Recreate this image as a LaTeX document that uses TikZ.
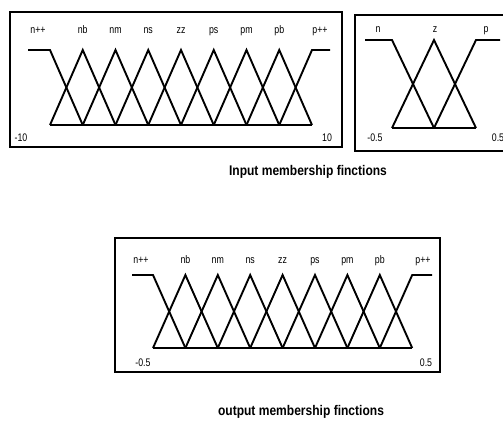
\documentclass[tikz,border=0pt]{standalone}
\usepackage{fontspec}
\setmainfont{Liberation Sans}
\newfontfamily\labfont[FakeStretch=0.8]{Liberation Sans}
\newfontfamily\ttlfont[FakeStretch=0.86]{Liberation Sans}
\begin{document}
\begin{tikzpicture}[x=1pt,y=-1pt,
  frame/.style={draw,line width=1.6pt},
  mfline/.style={line width=1.9pt,line join=miter},
  lab/.style={font=\labfont\fontsize{11}{11}\selectfont,inner sep=0pt,anchor=base},
  ttl/.style={font=\ttlfont\fontsize{14}{15}\selectfont\bfseries,inner sep=0pt}]
\useasboundingbox (0,0) rectangle (503,428);
% ---------- box 1 ----------
\draw[frame] (10,12) rectangle (342,147);
\foreach \k/\t in {1/nb,2/nm,3/ns,4/zz,5/ps,6/pm,7/pb}{
  \pgfmathsetmacro\xa{50+32.75*(\k-1)}
  \pgfmathsetmacro\xb{50+32.75*\k}
  \pgfmathsetmacro\xc{50+32.75*(\k+1)}
  \draw[mfline] (\xa,125) -- (\xb,50) -- (\xc,125);
  \node[lab] (a\k) at (\xb,34) {\t};
}
\draw[mfline] (28,50) -- (50,50) -- (82.75,125);
\draw[mfline] (279.25,125) -- (312,50) -- (330,50);
\draw[mfline] (50,125) -- (312,125);
\node[lab] (a0) at (38,34) {n++};
\node[lab] (a8) at (320,34) {p++};
\node[lab] (amin) at (21,141) {-10};
\node[lab] (amax) at (327,141) {10};
% ---------- box 2 ----------
\draw[frame] (355,15) rectangle (505,151);
\draw[mfline] (365,40) -- (392,40) -- (434,128);
\draw[mfline] (392,128) -- (434,40) -- (476,128);
\draw[mfline] (434,128) -- (476,40) -- (500,40);
\draw[mfline] (392,128) -- (476,128);
\node[lab] (bn) at (378,33) {n};
\node[lab] (bz) at (435,33) {z};
\node[lab] (bp) at (486,33) {p};
\node[lab] (bmin) at (375,141) {-0.5};
\node[lab] (bmax) at (498,141) {0.5};
\node[ttl] (t1) at (308,172) {Input membership finctions};
% ---------- box 3 ----------
\draw[frame] (115,238) rectangle (440,372);
\foreach \k/\t in {1/nb,2/nm,3/ns,4/zz,5/ps,6/pm,7/pb}{
  \pgfmathsetmacro\xa{153+32.4*(\k-1)}
  \pgfmathsetmacro\xb{153+32.4*\k}
  \pgfmathsetmacro\xc{153+32.4*(\k+1)}
  \draw[mfline] (\xa,348) -- (\xb,275) -- (\xc,348);
  \node[lab] (c\k) at (\xb,263) {\t};
}
\draw[mfline] (132,275) -- (153,275) -- (185.4,348);
\draw[mfline] (379.8,348) -- (412.2,275) -- (432,275);
\draw[mfline] (153,348) -- (412.2,348);
\node[lab] (c0) at (141,263) {n++};
\node[lab] (c8) at (423,263) {p++};
\node[lab] (cmin) at (143,366) {-0.5};
\node[lab] (cmax) at (426,366) {0.5};
\node[ttl] (t2) at (301,412) {output membership finctions};
\end{tikzpicture}
\end{document}
